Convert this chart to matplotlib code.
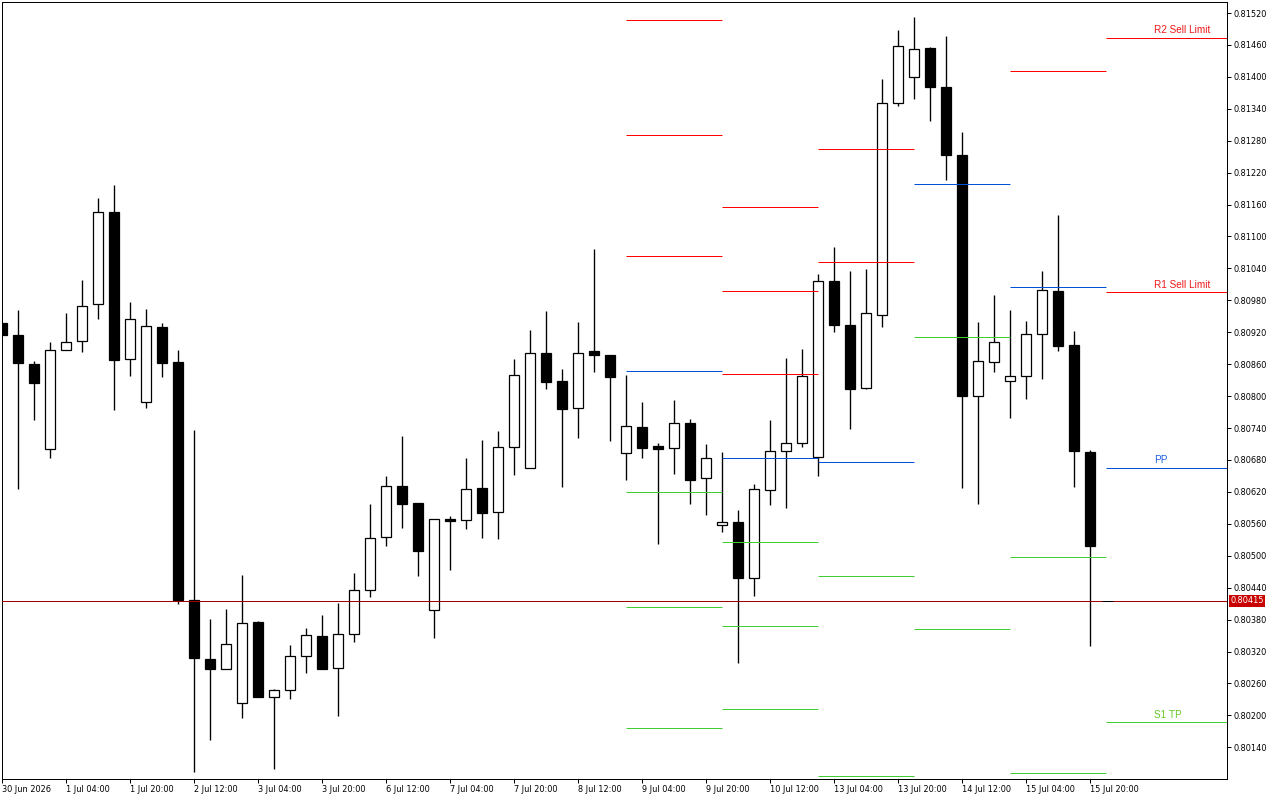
import matplotlib
matplotlib.use("Agg")
import matplotlib.pyplot as plt
from matplotlib.patches import Rectangle

# ---------------- data (H4 candles) ----------------
opens = [0.80938, 0.80915, 0.80861, 0.80700, 0.80886, 0.80903, 0.80973, 0.81146, 0.80869, 0.80789,
         0.80929, 0.80864, 0.80417, 0.80306, 0.80287, 0.80224, 0.80376, 0.80235, 0.80247, 0.80311,
         0.80350, 0.80289, 0.80353, 0.80435, 0.80535, 0.80631, 0.80599, 0.80398, 0.80569, 0.80567,
         0.80627, 0.80582, 0.80704, 0.80664, 0.80881, 0.80828, 0.80777, 0.80885, 0.80877, 0.80693,
         0.80742, 0.80706, 0.80702, 0.80749, 0.80646, 0.80557, 0.80564, 0.80459, 0.80624, 0.80696,
         0.80711, 0.80685, 0.81016, 0.80934, 0.80816, 0.80952, 0.81350, 0.81400, 0.81455, 0.81381,
         0.81254, 0.80801, 0.80864, 0.80828, 0.80838, 0.80917, 0.80997, 0.80896, 0.80695]
highs = [0.80938, 0.80961, 0.80866, 0.80902, 0.80957, 0.81019, 0.81172, 0.81197, 0.80976, 0.80964,
         0.80938, 0.80887, 0.80737, 0.80382, 0.80399, 0.80464, 0.80378, 0.80250, 0.80333, 0.80365,
         0.80389, 0.80411, 0.80468, 0.80597, 0.80650, 0.80725, 0.80599, 0.80569, 0.80575, 0.80684,
         0.80718, 0.80735, 0.80870, 0.80925, 0.80960, 0.80851, 0.80940, 0.81077, 0.80877, 0.80840,
         0.80789, 0.80712, 0.80793, 0.80757, 0.80710, 0.80695, 0.80586, 0.80635, 0.80755, 0.80871,
         0.80888, 0.81029, 0.81081, 0.81036, 0.81039, 0.81396, 0.81489, 0.81513, 0.81457, 0.81477,
         0.81297, 0.80940, 0.80990, 0.80962, 0.80942, 0.81036, 0.81141, 0.80923, 0.80699]
lows = [0.80914, 0.80625, 0.80755, 0.80683, 0.80886, 0.80883, 0.80945, 0.80774, 0.80837, 0.80777,
        0.80835, 0.80409, 0.80093, 0.80153, 0.80287, 0.80195, 0.80235, 0.80099, 0.80231, 0.80279,
        0.80287, 0.80199, 0.80337, 0.80423, 0.80519, 0.80553, 0.80461, 0.80346, 0.80474, 0.80551,
        0.80534, 0.80532, 0.80651, 0.80664, 0.80814, 0.80630, 0.80722, 0.80846, 0.80715, 0.80643,
        0.80683, 0.80523, 0.80653, 0.80598, 0.80577, 0.80544, 0.80299, 0.80425, 0.80596, 0.80589,
        0.80705, 0.80650, 0.80920, 0.80739, 0.80814, 0.80929, 0.81346, 0.81359, 0.81317, 0.81207,
        0.80628, 0.80598, 0.80846, 0.80758, 0.80795, 0.80833, 0.80884, 0.80630, 0.80331]
closes = [0.80914, 0.80862, 0.80824, 0.80887, 0.80902, 0.80969, 0.81146, 0.80867, 0.80944, 0.80932,
          0.80863, 0.80416, 0.80307, 0.80287, 0.80334, 0.80374, 0.80235, 0.80248, 0.80311, 0.80351,
          0.80287, 0.80353, 0.80435, 0.80533, 0.80631, 0.80598, 0.80508, 0.80569, 0.80566, 0.80625,
          0.80581, 0.80704, 0.80839, 0.80881, 0.80827, 0.80775, 0.80881, 0.80878, 0.80835, 0.80744,
          0.80703, 0.80700, 0.80749, 0.80643, 0.80683, 0.80564, 0.80459, 0.80625, 0.80697, 0.80712,
          0.80838, 0.81016, 0.80933, 0.80814, 0.80956, 0.81351, 0.81458, 0.81452, 0.81381, 0.81254,
          0.80801, 0.80866, 0.80901, 0.80838, 0.80917, 0.80999, 0.80895, 0.80696, 0.80519]

time_labels = ["30 Jun 2026", "1 Jul 04:00", "1 Jul 20:00", "2 Jul 12:00", "3 Jul 04:00",
               "3 Jul 20:00", "6 Jul 12:00", "7 Jul 04:00", "7 Jul 20:00", "8 Jul 12:00",
               "9 Jul 04:00", "9 Jul 20:00", "10 Jul 12:00", "13 Jul 04:00", "13 Jul 20:00",
               "14 Jul 12:00", "15 Jul 04:00", "15 Jul 20:00"]

# daily pivot levels (first candle index of each day, levels, kind R/P/S)
day_start_candle = [39, 45, 51, 57, 63]
day_levels = [
    [0.81507, 0.81291, 0.81063, 0.80847, 0.80620, 0.80403, 0.80176],
    [0.81155, 0.80997, 0.80841, 0.80683, 0.80525, 0.80368, 0.80212],
    [0.81264, 0.81052, 0.80676, 0.80462, 0.80086],
    [0.81199, 0.80911, 0.80362],
    [0.81411, 0.81005, 0.80497, 0.80091],
]
day_kinds = [
    ["R", "R", "R", "P", "S", "S", "S"],
    ["R", "R", "R", "P", "S", "S", "S"],
    ["R", "R", "P", "S", "S"],
    ["P", "S", "S"],
    ["R", "P", "S", "S"],
]

current_start_candle = 69
current_names = ["R2 Sell Limit", "R1 Sell Limit", "PP", "S1 TP"]
current_levels = [0.81473, 0.80995, 0.80665, 0.80187]
current_kinds = ["R", "R", "P", "S"]

last_price = 0.80415

y_ticks = [0.80140, 0.80200, 0.80260, 0.80320, 0.80380, 0.80440, 0.80500, 0.80560, 0.80620,
           0.80680, 0.80740, 0.80800, 0.80860, 0.80920, 0.80980, 0.81040, 0.81100, 0.81160,
           0.81220, 0.81280, 0.81340, 0.81400, 0.81460, 0.81520]

# ---------------- styling ----------------
line_col = {"R": "#FF0000", "P": "#0050D8", "S": "#44CC33"}
text_col = {"R": "#F01818", "P": "#2060E0", "S": "#66C822"}
px = 0.72  # one pixel in points at dpi 100

fig = plt.figure(figsize=(12.8, 8), dpi=100)
ax = fig.add_axes([2 / 1280, 1 - 779 / 800, 1225 / 1280, 777 / 800])
ax.set_facecolor("white")

n = len(opens)
xmax = 76.54
ax.set_xlim(0, xmax)
ax.set_ylim(0.800804, 0.815407)

body_w = 0.64
for i in range(n):
    o, h, l, c = opens[i], highs[i], lows[i], closes[i]
    ax.vlines(i, l, h, color="black", lw=1.35 * px, zorder=2)
    bull = c >= o
    bot = min(o, c)
    ht = max(abs(c - o), 0.000004)
    ax.add_patch(Rectangle((i - body_w / 2, bot), body_w, ht,
                           facecolor="white" if bull else "black",
                           edgecolor="black", lw=1.25 * px, zorder=3))

# historical daily levels
for start, lv, kd in zip(day_start_candle, day_levels, day_kinds):
    for v, k in zip(lv, kd):
        ax.hlines(v, start, start + 6, color=line_col[k], lw=1.0 * px, zorder=4)

# current day labelled levels
for name, v, k in zip(current_names, current_levels, current_kinds):
    ax.hlines(v, current_start_candle, xmax, color=line_col[k], lw=1.0 * px, zorder=4)
    ax.annotate(name, xy=(current_start_candle + 3, v), xytext=(0, 2), textcoords="offset points",
                ha="left", va="bottom", color=text_col[k], fontsize=7.2,
                family="Liberation Sans", zorder=5)

# last price line
ax.axhline(last_price, color="#A00000", lw=1.0 * px, zorder=4)
ax.hlines(last_price, n - 0.3, n + 0.4, color="black", lw=1.0 * px, zorder=5)
ax.text((1230.5 - 2) / 1225, last_price, f"{last_price:.5f}", transform=ax.get_yaxis_transform(),
        ha="left", va="center", color="white", fontsize=5.9, family="DejaVu Sans",
        bbox=dict(boxstyle="square,pad=0.18", fc="#C80000", ec="none"), zorder=6, clip_on=False)

# axes
for s in ax.spines.values():
    s.set_color("black")
    s.set_linewidth(1.0 * px)

ax.set_xticks(list(range(0, n, 4)))
ax.set_xticklabels(time_labels, ha="left", fontsize=5.85, family="DejaVu Sans")
ax.set_yticks(y_ticks)
ax.set_yticklabels([f"{v:.5f}" for v in y_ticks], fontsize=5.85, family="DejaVu Sans")
ax.yaxis.tick_right()
ax.tick_params(axis="y", direction="out", length=3, width=px, pad=1.5, colors="black")
ax.tick_params(axis="x", direction="out", length=3, width=px, pad=1.0, colors="black")

fig.savefig("out.png", dpi=100, facecolor="white")
